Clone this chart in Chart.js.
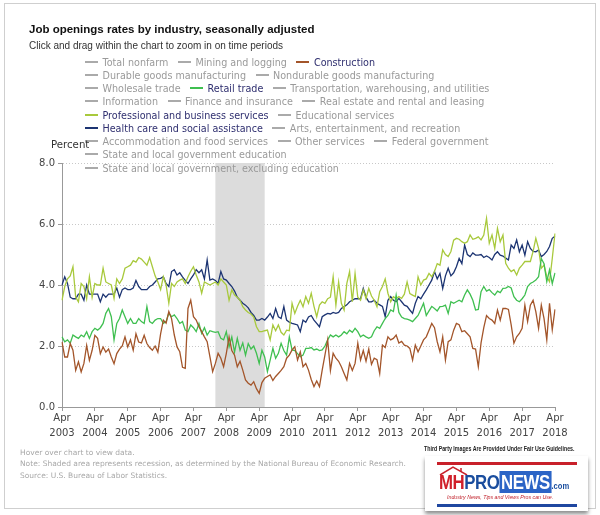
<!DOCTYPE html>
<html><head><meta charset="utf-8">
<script src="https://cdn.jsdelivr.net/npm/chart.js@4.4.1/dist/chart.umd.min.js"></script>
<style>
html,body{margin:0;padding:0;background:#fff;}
body{width:600px;height:515px;position:relative;overflow:hidden;font-family:"DejaVu Sans",Verdana,sans-serif;}
#frame{position:absolute;left:4px;top:3px;width:592px;height:506px;border:1px solid #cfcfcf;box-sizing:border-box;}
#cv{position:absolute;left:0;top:0;}
#title{position:absolute;left:29px;top:23px;font:bold 11.5px "Liberation Sans",Arial,sans-serif;color:#111;white-space:nowrap;}
#sub{position:absolute;left:29px;top:40px;font:10px "Liberation Sans",Arial,sans-serif;color:#333;white-space:nowrap;}
#legend{position:absolute;left:85px;top:55.7px;font-size:9.6px;color:#9a9a9a;}
.row{white-space:nowrap;height:13.25px;line-height:13.25px;}
.it{display:inline-block;margin-right:9.5px;}
.sw{display:inline-block;width:13px;height:2px;background:#aaa;vertical-align:middle;margin-right:4.5px;position:relative;top:-1px;}
.on{color:#2f2f6f;}
#ylab{position:absolute;left:51px;top:139px;font-size:10.2px;color:#333;}
.foot{position:absolute;left:20px;font-size:7.5px;color:#a8a8a8;white-space:nowrap;}
#fair{position:absolute;left:424px;top:445px;font:bold 6.6px "Liberation Sans",Arial,sans-serif;color:#222;white-space:nowrap;transform:scaleX(0.8);transform-origin:0 0;}
#logo{position:absolute;left:425px;top:456px;width:163px;height:55px;background:#fff;box-shadow:0 3px 4px rgba(0,0,0,0.45);}
#logo .rl{position:absolute;left:12px;top:6px;width:140px;height:3px;background:#c8202a;}
#logo .bl{position:absolute;left:12px;top:48px;width:140px;height:3px;background:#1f47a0;}
#word{position:absolute;left:14px;top:16px;font:bold 20px "Liberation Sans",Arial,sans-serif;line-height:20px;white-space:nowrap;transform:scaleX(0.84);transform-origin:0 0;letter-spacing:-0.5px;}
#word .r{color:#d0202a;}
#word .b{color:#1a4d9e;}
#word .n{color:#fff;background:#2b64c6;padding:0 2px;}
#word .c{color:#1a4d9e;font-size:9px;letter-spacing:0;}
#tag{position:absolute;left:22px;top:37px;font:italic 6.2px "Liberation Sans",Arial,sans-serif;color:#c0202a;white-space:nowrap;transform:scaleX(0.85);transform-origin:0 0;}
#roof{position:absolute;left:12px;top:9px;}
</style></head>
<body>
<div id="frame"></div>
<canvas id="cv" width="600" height="515"></canvas>
<div id="title">Job openings rates by industry, seasonally adjusted</div>
<div id="sub">Click and drag within the chart to zoom in on time periods</div>
<div id="legend">
<div class="row"><span class="it"><span class="sw"></span>Total nonfarm</span><span class="it"><span class="sw"></span>Mining and logging</span><span class="it on"><span class="sw" style="background:#a3552a"></span>Construction</span></div>
<div class="row"><span class="it"><span class="sw"></span>Durable goods manufacturing</span><span class="it"><span class="sw"></span>Nondurable goods manufacturing</span></div>
<div class="row"><span class="it"><span class="sw"></span>Wholesale trade</span><span class="it on"><span class="sw" style="background:#3fbf50"></span>Retail trade</span><span class="it"><span class="sw"></span>Transportation, warehousing, and utilities</span></div>
<div class="row"><span class="it"><span class="sw"></span>Information</span><span class="it"><span class="sw"></span>Finance and insurance</span><span class="it"><span class="sw"></span>Real estate and rental and leasing</span></div>
<div class="row"><span class="it on"><span class="sw" style="background:#a8c93c"></span>Professional and business services</span><span class="it"><span class="sw"></span>Educational services</span></div>
<div class="row"><span class="it on"><span class="sw" style="background:#1c3472"></span>Health care and social assistance</span><span class="it"><span class="sw"></span>Arts, entertainment, and recreation</span></div>
<div class="row"><span class="it"><span class="sw"></span>Accommodation and food services</span><span class="it"><span class="sw"></span>Other services</span><span class="it"><span class="sw"></span>Federal government</span></div>
<div class="row"><span class="it"><span class="sw"></span>State and local government education</span></div>
<div class="row"><span class="it"><span class="sw"></span>State and local government, excluding education</span></div>
</div>
<div id="ylab">Percent</div>
<div class="foot" style="top:448px">Hover over chart to view data.</div>
<div class="foot" style="top:459px">Note: Shaded area represents recession, as determined by the National Bureau of Economic Research.</div>
<div class="foot" style="top:471px">Source: U.S. Bureau of Labor Statistics.</div>
<div id="fair">Third Party Images Are Provided Under Fair Use Guidelines.</div>
<div id="logo">
<div class="rl"></div>
<svg id="roof" width="40" height="10"><polyline points="3,10 16,2 30,10" fill="none" stroke="#c8202a" stroke-width="1.5"/><line x1="24" y1="3" x2="24" y2="7" stroke="#c8202a" stroke-width="1.5"/></svg>
<div id="word"><span class="r">MH</span><span class="b">PRO</span><span class="n">NEWS</span><span class="c">.com</span></div>
<div id="tag">Industry News, Tips and Views Pros can Use.</div>
<div class="bl"></div>
</div>
<script>
const monthNames = ['Jan','Feb','Mar','Apr','May','Jun','Jul','Aug','Sep','Oct','Nov','Dec'];
const startYear = 2003, startMonth = 3, monthCount = 181;
const categories = [];
for (let i = 0; i < monthCount; i++) {
  const mi = startMonth + i;
  categories.push(monthNames[mi % 12] + ' ' + (startYear + Math.floor(mi / 12)));
}
const recessionStart = 'Dec 2007';
const recessionEnd = 'Jun 2009';
const yTicks = [0, 2, 4, 6, 8];

const construction = [
 2.13,1.64,1.64,2.08,1.86,1.20,1.48,1.15,1.43,2.02,1.53,1.86,
 2.35,2.25,1.75,1.97,1.80,1.90,1.64,1.42,1.75,1.90,2.00,2.30,
 1.97,2.20,1.86,2.40,2.13,2.10,2.35,2.08,1.95,1.86,2.00,1.80,
 2.40,2.85,2.75,3.13,2.90,2.36,1.97,1.81,1.30,1.27,3.23,3.50,
 2.96,2.85,2.63,2.47,2.30,2.14,1.65,1.16,1.43,1.76,1.60,1.32,
 1.76,2.30,1.85,1.70,1.32,1.50,1.21,0.89,0.78,0.72,0.83,0.60,
 0.45,0.80,0.94,1.00,1.05,0.87,1.00,1.10,1.20,1.32,1.60,1.70,
 1.87,1.98,1.54,1.81,1.32,1.43,1.21,0.90,0.67,0.85,0.67,1.21,
 1.70,2.20,1.20,1.76,1.60,1.50,1.32,1.10,0.89,1.43,1.20,1.43,
 2.09,1.54,1.85,1.50,1.90,1.40,1.60,1.55,1.10,2.03,1.95,2.30,
 2.20,2.25,2.36,2.10,2.15,2.03,2.00,1.92,1.54,2.03,1.81,2.00,
 2.20,2.30,2.52,2.74,2.60,2.14,1.81,2.30,1.54,2.14,2.20,2.52,
 2.74,2.70,2.47,2.50,2.40,2.30,1.92,1.90,1.32,2.10,2.60,3.00,
 2.90,2.85,2.74,3.18,2.85,3.23,3.23,3.20,2.69,2.09,2.30,2.41,
 2.58,3.34,2.80,3.34,3.50,3.13,2.58,3.34,2.90,2.20,3.40,2.53,3.20
];
const retailTrade = [
 2.30,2.14,2.20,2.09,2.36,2.30,2.25,2.36,2.30,2.47,2.25,2.47,
 2.58,2.52,2.60,2.74,3.07,3.23,2.96,2.20,2.74,2.90,3.18,2.96,
 2.74,2.90,2.74,2.74,2.90,2.80,2.74,3.29,2.80,2.74,2.85,2.90,
 2.90,2.74,2.80,3.07,2.96,3.02,2.90,2.74,2.80,2.52,2.47,2.69,
 2.60,2.47,2.74,2.41,2.60,2.36,2.50,2.47,2.45,2.47,2.25,2.20,
 2.47,1.97,2.30,1.80,2.25,1.86,2.10,1.70,2.08,1.90,2.00,1.76,
 1.43,1.86,1.64,1.16,1.54,1.92,1.60,1.76,2.09,1.85,1.70,2.30,
 1.87,1.85,1.75,1.65,1.70,1.92,1.92,1.95,1.87,1.90,1.85,1.87,
 2.00,2.20,2.36,2.30,2.36,2.30,2.36,2.47,2.40,2.52,2.45,2.58,
 2.47,2.30,2.36,2.30,2.25,2.30,2.50,2.63,2.58,2.74,2.90,3.00,
 3.18,3.13,3.67,3.10,2.95,2.90,2.88,2.85,2.80,2.90,3.00,3.20,
 3.40,3.00,3.15,3.30,3.23,3.15,3.29,3.30,3.34,3.07,3.45,3.40,
 3.45,3.50,3.45,3.67,3.84,3.70,3.50,3.18,3.20,3.78,3.95,3.80,
 3.85,3.75,3.67,3.80,3.75,3.89,3.90,3.95,3.90,3.62,3.50,3.45,
 3.55,3.67,3.95,4.05,4.10,4.16,4.27,4.87,4.70,4.11,4.50,4.05,4.40
];
const professionalBusiness = [
 3.50,3.95,4.20,4.30,4.60,3.60,3.45,4.05,3.95,3.55,4.27,3.60,
 4.05,4.00,4.00,4.55,4.10,4.05,4.00,3.56,4.20,4.05,4.20,4.55,
 4.60,4.65,4.80,4.75,4.90,4.85,4.75,4.65,4.90,4.60,4.30,4.10,
 3.85,4.27,4.00,3.40,4.05,3.95,4.10,4.16,4.20,4.05,4.27,4.45,
 4.60,4.33,4.10,3.73,4.10,4.05,4.00,4.05,4.10,4.00,4.20,4.10,
 4.00,3.50,3.84,3.67,3.60,3.50,3.29,3.18,3.10,3.05,2.95,2.63,
 2.47,2.47,2.50,2.52,2.20,2.69,2.50,2.69,2.45,2.36,2.52,2.50,
 3.40,3.07,3.30,3.50,3.29,3.62,3.40,3.73,3.30,2.96,3.34,3.45,
 3.40,3.55,3.60,4.27,3.34,4.10,3.40,3.18,4.05,4.44,3.45,4.38,
 3.60,3.50,3.84,3.55,3.89,3.64,3.50,3.29,3.78,3.95,4.20,3.73,
 3.45,3.62,3.56,3.62,3.56,3.70,4.10,3.72,3.67,3.62,4.27,4.00,
 4.16,4.20,4.38,4.27,4.44,4.70,4.65,5.15,5.00,4.93,5.10,5.47,
 5.53,5.50,5.42,5.37,5.42,5.64,5.50,5.53,5.58,5.48,5.64,6.19,
 5.37,5.64,5.20,5.86,5.42,5.64,4.71,4.55,4.44,4.50,4.33,4.55,
 4.65,4.77,4.77,4.77,5.10,5.53,5.20,4.55,4.65,4.27,4.11,4.87,5.69
];
const healthCare = [
 4.00,4.27,4.05,3.60,3.55,3.55,3.70,3.70,3.50,4.00,3.70,3.70,
 3.70,3.70,3.45,3.70,3.60,3.70,3.70,3.70,3.90,3.60,3.85,3.90,
 3.85,3.85,3.90,4.15,3.95,3.85,3.85,3.85,3.95,4.00,4.10,4.20,
 4.22,4.27,4.05,3.95,4.44,4.50,4.33,4.40,4.27,4.15,4.05,4.20,
 4.33,4.50,4.40,4.50,4.20,4.82,4.16,4.20,4.15,4.05,4.44,4.20,
 4.16,4.05,3.95,3.80,3.60,3.50,3.40,3.34,3.25,3.10,3.00,2.85,
 2.85,2.90,2.85,2.95,3.07,2.90,3.23,2.96,2.90,3.29,2.85,2.78,
 2.74,2.72,2.69,2.47,2.85,2.78,2.95,3.00,2.85,2.74,2.63,2.96,
 3.02,3.07,3.05,3.10,3.07,3.10,3.23,3.29,3.35,3.45,3.50,3.55,
 3.55,3.55,3.89,3.60,3.45,3.45,3.50,3.40,3.35,3.30,2.96,3.50,
 3.62,3.50,3.45,3.56,3.45,3.34,3.30,3.18,3.07,3.40,3.62,3.55,
 3.70,3.84,4.00,4.16,4.44,4.20,4.38,3.89,4.30,4.55,4.30,4.40,
 4.60,4.87,4.70,5.31,5.00,4.93,5.05,4.98,4.98,5.00,4.90,4.95,
 4.90,4.82,5.00,5.09,4.98,4.95,4.88,4.82,5.31,5.20,5.48,5.09,
 5.31,4.98,5.42,5.20,5.10,5.09,5.15,4.93,5.00,5.10,5.26,5.53,5.60
];

const recessionPlugin = {
  id: 'recession',
  beforeDatasetsDraw(chart) {
    const {ctx, chartArea, scales} = chart;
    const x0 = scales.x.getPixelForValue(categories.indexOf(recessionStart));
    const x1 = scales.x.getPixelForValue(categories.indexOf(recessionEnd));
    ctx.save();
    ctx.fillStyle = '#dcdcdc';
    ctx.fillRect(x0, chartArea.top, x1 - x0, chartArea.bottom - chartArea.top);
    ctx.restore();
  }
};

Chart.defaults.font.family = '"DejaVu Sans", Verdana, sans-serif';
const lineDs = (label, data, color) => ({
  label, data, borderColor: color, backgroundColor: color,
  borderWidth: 1.3, pointRadius: 0, pointHoverRadius: 0, tension: 0, fill: false
});

new Chart(document.getElementById('cv'), {
  type: 'line',
  data: {
    labels: categories,
    datasets: [
      lineDs('Construction', construction, '#a3552a'),
      lineDs('Retail trade', retailTrade, '#3fbf50'),
      lineDs('Professional and business services', professionalBusiness, '#a8c93c'),
      lineDs('Health care and social assistance', healthCare, '#1c3472')
    ]
  },
  options: {
    responsive: false,
    devicePixelRatio: 1,
    animation: false,
    layout: { padding: { left: 0, top: 163, right: 45, bottom: 68 } },
    plugins: { legend: { display: false }, title: { display: false }, tooltip: { enabled: false } },
    scales: {
      x: {
        type: 'category',
        afterFit(s) { s.height = 40; s.paddingLeft = 0; s.paddingRight = 0; },
        ticks: {
          autoSkip: false, maxRotation: 0, minRotation: 0, padding: 0,
          color: '#444', font: { size: 10, lineHeight: 1.5 },
          callback(v) { const l = this.getLabelForValue(v); return l.startsWith('Apr') ? l.split(' ') : ''; }
        },
        grid: {
          drawOnChartArea: false, drawTicks: true, tickLength: 4,
          color: (c) => (c.tick && Array.isArray(c.tick.label)) ? '#999' : 'rgba(0,0,0,0)'
        },
        border: { display: true, color: '#999', width: 1 }
      },
      y: {
        min: 0, max: 8,
        afterFit(s) { s.width = 62; },
        afterBuildTicks(s) { s.ticks = yTicks.map(v => ({ value: v })); },
        ticks: { color: '#444', font: { size: 10 }, padding: 3, callback: (v) => Number(v).toFixed(1) },
        grid: { color: '#c8c8c8', tickLength: 4, tickColor: '#999', tickBorderDash: [] },
        border: { display: true, color: '#999', width: 1, dash: [1, 2] }
      }
    }
  },
  plugins: [recessionPlugin]
});
</script>
</body></html>
